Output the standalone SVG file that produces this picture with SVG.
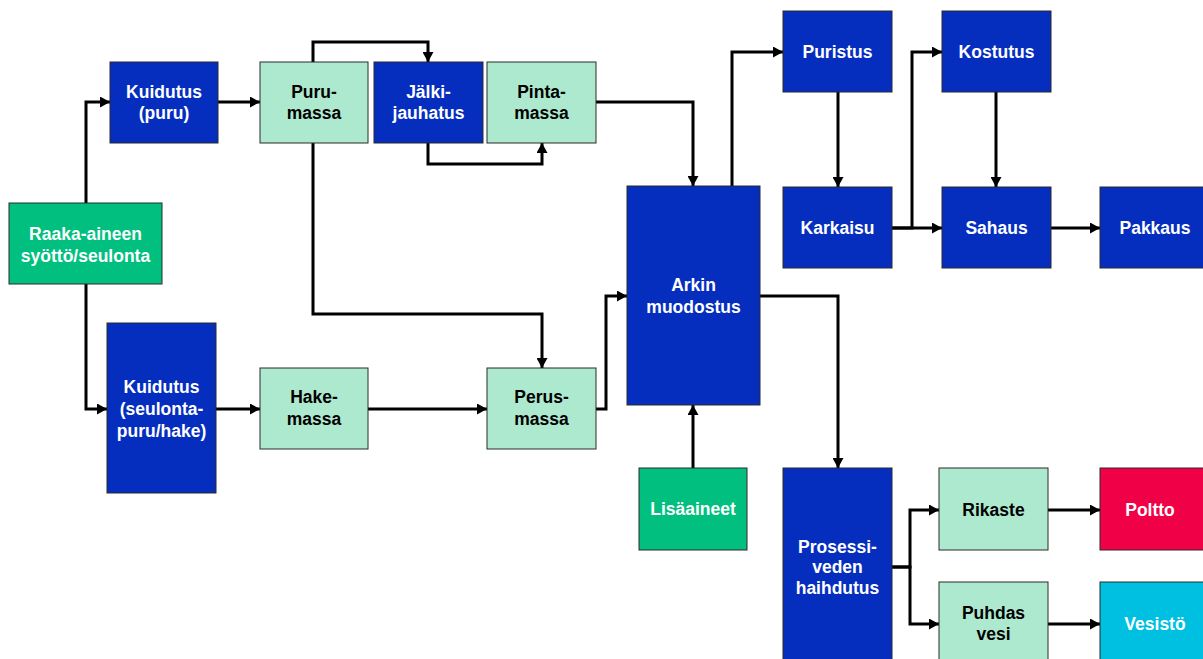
<svg xmlns="http://www.w3.org/2000/svg" width="1203" height="659" viewBox="0 0 1203 659">
<style>
.b{stroke:#2a2a2a;stroke-width:1}
.blue{fill:#052EBF}
.lg{fill:#ADE9CF}
.g{fill:#00BF7F}
.red{fill:#F00046}
.cy{fill:#00C0E2}
text{font-family:"Liberation Sans",Arial,sans-serif;font-weight:bold;font-size:17.5px;text-anchor:middle}
.w{fill:#ffffff}
.k{fill:#000000}
.c{fill:none;stroke:#000;stroke-width:3}
</style>
<defs>
<marker id="ah" viewBox="0 0 10 11" refX="10" refY="5.5" markerWidth="10" markerHeight="11" markerUnits="userSpaceOnUse" orient="auto">
<path d="M0,0 L10,5.5 L0,11 z" fill="#000"/>
</marker>
</defs>
<rect width="1203" height="659" fill="#fff"/>
<g id="connectors">
<path class="c" d="M86,203 V102 H110" marker-end="url(#ah)"/>
<path class="c" d="M218,102 H260" marker-end="url(#ah)"/>
<path class="c" d="M313,62 V42 H428 V62" marker-end="url(#ah)"/>
<path class="c" d="M428,143 V164 H542 V143" marker-end="url(#ah)"/>
<path class="c" d="M596,102 H693 V186" marker-end="url(#ah)"/>
<path class="c" d="M86,284 V409 H107" marker-end="url(#ah)"/>
<path class="c" d="M216,409 H260" marker-end="url(#ah)"/>
<path class="c" d="M368,409 H487" marker-end="url(#ah)"/>
<path class="c" d="M313,143 V314 H542 V368" marker-end="url(#ah)"/>
<path class="c" d="M596,409 H606 V296 H627" marker-end="url(#ah)"/>
<path class="c" d="M693,468 V405" marker-end="url(#ah)"/>
<path class="c" d="M732,186 V52 H783" marker-end="url(#ah)"/>
<path class="c" d="M838,92 V187" marker-end="url(#ah)"/>
<path class="c" d="M892,228 H912 V52 H942" marker-end="url(#ah)"/>
<path class="c" d="M892,228 H942" marker-end="url(#ah)"/>
<path class="c" d="M996,92 V187" marker-end="url(#ah)"/>
<path class="c" d="M1051,228 H1100" marker-end="url(#ah)"/>
<path class="c" d="M760,296 H838 V468" marker-end="url(#ah)"/>
<path class="c" d="M892,567 H910 V510 H939" marker-end="url(#ah)"/>
<path class="c" d="M892,567 H910 V624 H939" marker-end="url(#ah)"/>
<path class="c" d="M1048,510 H1100" marker-end="url(#ah)"/>
<path class="c" d="M1048,624 H1100" marker-end="url(#ah)"/>
</g>
<g id="raaka"><rect class="b g" x="9" y="203" width="153" height="81"/><text class="w" x="85.5" y="240">Raaka-aineen</text><text class="w" x="85.5" y="262">syöttö/seulonta</text></g>
<g id="kuidutus-puru"><rect class="b blue" x="110" y="62" width="108" height="81"/><text class="w" x="164" y="98">Kuidutus</text><text class="w" x="164" y="119">(puru)</text></g>
<g id="purumassa"><rect class="b lg" x="260" y="62" width="108" height="81"/><text class="k" x="314" y="98">Puru-</text><text class="k" x="314" y="119">massa</text></g>
<g id="jalkijauhatus"><rect class="b blue" x="374" y="62" width="109" height="81"/><text class="w" x="428.5" y="98">Jälki-</text><text class="w" x="428.5" y="119">jauhatus</text></g>
<g id="pintamassa"><rect class="b lg" x="487" y="62" width="109" height="81"/><text class="k" x="541.5" y="98">Pinta-</text><text class="k" x="541.5" y="119">massa</text></g>
<g id="kuidutus-seulonta"><rect class="b blue" x="107" y="323" width="109" height="170"/><text class="w" x="161.5" y="393">Kuidutus</text><text class="w" x="161.5" y="415">(seulonta-</text><text class="w" x="161.5" y="437">puru/hake)</text></g>
<g id="hakemassa"><rect class="b lg" x="260" y="368" width="108" height="81"/><text class="k" x="314" y="403">Hake-</text><text class="k" x="314" y="425">massa</text></g>
<g id="perusmassa"><rect class="b lg" x="487" y="368" width="109" height="81"/><text class="k" x="541.5" y="403">Perus-</text><text class="k" x="541.5" y="425">massa</text></g>
<g id="arkin"><rect class="b blue" x="627" y="186" width="133" height="219"/><text class="w" x="693.5" y="291">Arkin</text><text class="w" x="693.5" y="313">muodostus</text></g>
<g id="lisaaineet"><rect class="b g" x="639" y="468" width="108" height="82"/><text class="w" x="693" y="515">Lisäaineet</text></g>
<g id="puristus"><rect class="b blue" x="783" y="11" width="109" height="81"/><text class="w" x="837.5" y="58">Puristus</text></g>
<g id="karkaisu"><rect class="b blue" x="783" y="187" width="109" height="81"/><text class="w" x="837.5" y="234">Karkaisu</text></g>
<g id="kostutus"><rect class="b blue" x="942" y="11" width="109" height="81"/><text class="w" x="996.5" y="58">Kostutus</text></g>
<g id="sahaus"><rect class="b blue" x="942" y="187" width="109" height="81"/><text class="w" x="996.5" y="234">Sahaus</text></g>
<g id="pakkaus"><rect class="b blue" x="1100" y="187" width="108" height="81"/><text class="w" x="1155" y="234">Pakkaus</text></g>
<g id="prosessi"><rect class="b blue" x="783" y="468" width="109" height="200"/><text class="w" x="837.5" y="553">Prosessi-</text><text class="w" x="837.5" y="573">veden</text><text class="w" x="837.5" y="594">haihdutus</text></g>
<g id="rikaste"><rect class="b lg" x="939" y="468" width="109" height="82"/><text class="k" x="993.5" y="516">Rikaste</text></g>
<g id="poltto"><rect class="b red" x="1100" y="468" width="108" height="82"/><text class="w" x="1150" y="516">Poltto</text></g>
<g id="puhdas"><rect class="b lg" x="939" y="582" width="109" height="86"/><text class="k" x="993.5" y="619">Puhdas</text><text class="k" x="993.5" y="640">vesi</text></g>
<g id="vesisto"><rect class="b cy" x="1100" y="582" width="108" height="86"/><text class="w" x="1155" y="630">Vesistö</text></g>
</svg>
